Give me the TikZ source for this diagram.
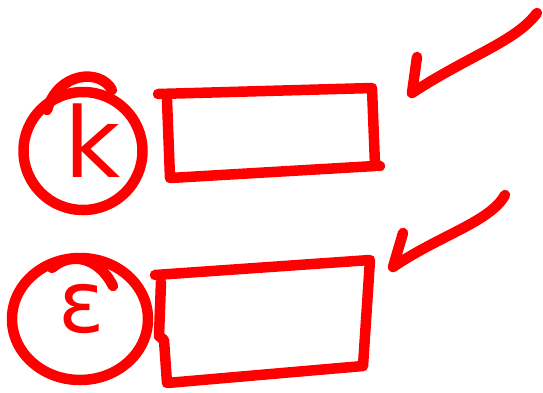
\documentclass[tikz,border=0pt]{standalone}
\usepackage{fontspec}
\setsansfont{DejaVu Sans}
\usetikzlibrary{shapes.geometric}
\definecolor{pen}{HTML}{FF0000}

\begin{document}
\begin{tikzpicture}[
  x=1pt, y=-1pt,
  ink/.style={draw=pen, line width=10.5pt, line cap=round, line join=round},
  ring/.style={ink, ellipse, inner sep=0pt},
  glyph/.style={text=pen, anchor=base, inner sep=0pt, font=\sffamily\fontsize{#1}{#1}\selectfont}
]
\useasboundingbox (0,0) rectangle (543,392);
% circled letters
\node[ring, minimum width=119pt, minimum height=118pt] (ck) at (83,151) {};
\node[ring, minimum width=136pt, minimum height=122pt] (ce) at (80,319) {};
\draw[ink] (47,110) .. controls (58,72) and (100,68) .. (112,90);
\draw[ink] (52,268) .. controls (70,252) and (98,256) .. (113,286);
\node[glyph=97] (tk) at (93,177) {k};
\node[glyph=86] (te) at (82,332) {ε};
% boxes
\draw[ink] (158,94) -- (372,88) -- (375,165) -- (380,166)
  (375,166) -- (170,178) -- (167,100);
\draw[ink] (155,275) -- (370,260) -- (363,366) -- (167,383) -- (164,340)
  -- (159,336) -- (161,282);
% ticks
\coordinate (a1) at (537,13);
\coordinate (b1) at (412,93);
\coordinate (c1) at (417,57);
\coordinate (a2) at (505,195);
\coordinate (b2) at (393,267);
\coordinate (c2) at (403,233);
\draw[ink] (a1) .. controls (515,42) and (470,55) .. (b1) -- (c1);
\draw[ink] (a2) .. controls (490,222) and (440,235) .. (b2) -- (c2);
\end{tikzpicture}
\end{document}
